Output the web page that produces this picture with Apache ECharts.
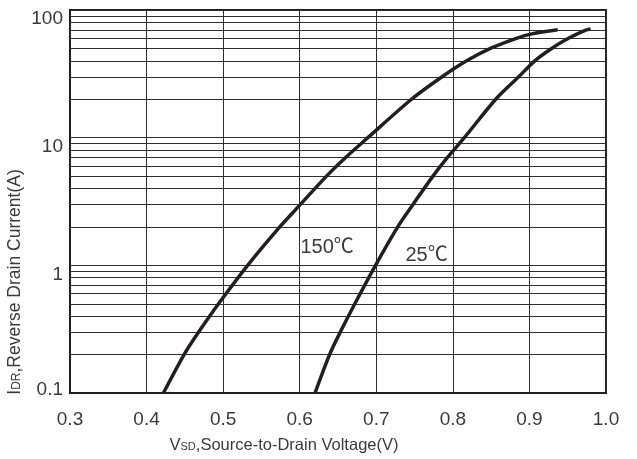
<!DOCTYPE html>
<html>
<head>
<meta charset="utf-8">
<script src="https://cdn.jsdelivr.net/npm/echarts@6/dist/echarts.min.js"></script>
<style>
  html, body { margin: 0; padding: 0; background: #fff; }
  #chart { width: 637px; height: 459px; }
</style>
</head>
<body>
<div id="chart"></div>
<script>
// 150 degC curve
const v150 = [0.422, 0.449, 0.468, 0.494, 0.532, 0.574, 0.601, 0.635, 0.660, 0.689, 0.746, 0.786, 0.818, 0.849, 0.883, 0.903, 0.937];
const i150 = [0.1, 0.2, 0.3, 0.5, 1, 2, 3, 5, 7, 10, 20, 30, 40, 50, 60, 65, 70];
// 25 degC curve
const v25 = [0.620, 0.639, 0.653, 0.672, 0.699, 0.728, 0.748, 0.774, 0.793, 0.815, 0.856, 0.886, 0.907, 0.929, 0.951, 0.972, 0.980];
const i25 = [0.1, 0.2, 0.3, 0.5, 1, 2, 3, 5, 7, 10, 20, 30, 40, 50, 60, 69, 71];

// log grid lines between the decades
const minorLines = [0.2, 0.3, 0.4, 0.5, 0.6, 0.7, 0.8, 0.9, 2, 3, 4, 5, 6, 7, 8, 9, 20, 30, 40, 50, 60, 70, 80, 90];

const curveNames = ['150℃', '25℃'];
const nameAt = [[0.601, 1.39], [0.738, 1.19]];

const font = "'Liberation Sans', 'Noto Sans CJK SC', sans-serif";
const ink = '#231f20';
const textColor = '#3a3a3a';

function pairs(xs, ys) {
  return xs.map((x, k) => [x, ys[k]]);
}

function curve(name, xs, ys, at) {
  return {
    name: name,
    type: 'line',
    data: pairs(xs, ys),
    smooth: 0.3,
    symbol: 'none',
    lineStyle: { color: ink, width: 3.5 },
    z: 5,
    markPoint: {
      symbol: 'circle',
      symbolSize: 0,
      silent: true,
      data: [{ coord: at, value: name }],
      label: {
        show: true,
        position: 'right',
        distance: 0,
        formatter: name,
        color: textColor,
        fontFamily: font,
        fontSize: 20
      }
    }
  };
}

let option = {
  animation: false,
  grid: {
    left: 70,
    right: 31,
    top: 10,
    bottom: 66,
    show: true,
    borderColor: ink,
    borderWidth: 2
  },
  xAxis: {
    type: 'value',
    min: 0.3,
    max: 1.0,
    interval: 0.1,
    axisLine: { show: true, lineStyle: { color: ink, width: 2 } },
    axisTick: { show: false },
    axisLabel: {
      color: textColor,
      fontFamily: font,
      fontSize: 19,
      margin: 17,
      formatter: v => v.toFixed(1)
    },
    splitLine: { show: true, lineStyle: { color: '#2e2e2e', width: 1 } }
  },
  yAxis: {
    type: 'log',
    logBase: 10,
    min: 0.1,
    max: 100,
    axisLine: { show: true, lineStyle: { color: ink, width: 2 } },
    axisTick: { show: false },
    axisLabel: {
      color: textColor,
      fontFamily: font,
      fontSize: 19,
      margin: 7,
      formatter: v => (v < 0.5 ? '{lo|' + v + '}' : '{up|' + v + '}'),
      rich: {
        lo: { fontFamily: font, fontSize: 19, color: textColor, padding: [0, 0, 6, 0] },
        up: { fontFamily: font, fontSize: 19, color: textColor, padding: [18, 0, 0, 0] }
      }
    },
    splitLine: { show: true, lineStyle: { color: '#2e2e2e', width: 1 } }
  },
  graphic: [
    {
      type: 'text',
      x: 284,
      y: 445,
      style: {
        text: '{n|V}{s|SD}{n|,Source-to-Drain Voltage(V)}',
        align: 'center',
        verticalAlign: 'middle',
        rich: {
          n: { fontFamily: font, fontSize: 16.5, fill: textColor },
          s: { fontFamily: font, fontSize: 11, fill: textColor, padding: [4, 0, 0, 0] }
        }
      }
    },
    {
      type: 'text',
      x: 15,
      y: 282,
      rotation: Math.PI / 2,
      style: {
        text: '{n|I}{s|DR}{n|,Reverse Drain Current(A)}',
        align: 'center',
        verticalAlign: 'middle',
        rich: {
          n: { fontFamily: font, fontSize: 17.5, fill: textColor },
          s: { fontFamily: font, fontSize: 12, fill: textColor, padding: [4, 0, 0, 0] }
        }
      }
    }
  ],
  series: [
    curve(curveNames[0], v150, i150, nameAt[0]),
    curve(curveNames[1], v25, i25, nameAt[1]),
    {
      type: 'line',
      data: [],
      markLine: {
        silent: true,
        symbol: 'none',
        label: { show: false },
        lineStyle: { color: '#2e2e2e', width: 1, type: 'solid' },
        data: minorLines.map(v => ({ yAxis: v }))
      }
    }
  ]
};

var myChart = echarts.init(document.getElementById('chart'));
myChart.setOption(option);
</script>
</body>
</html>
